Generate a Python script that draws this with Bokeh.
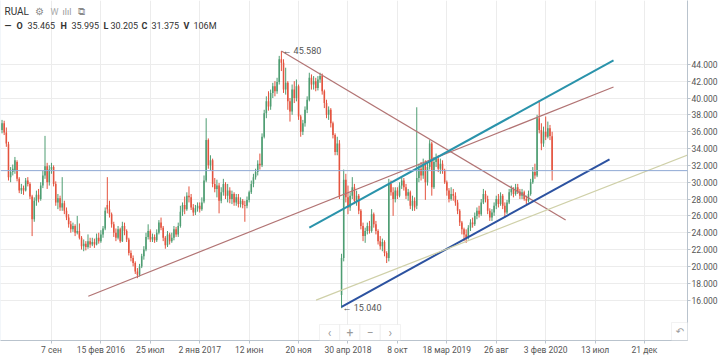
import pandas as pd
from bokeh.plotting import figure
from bokeh.models import (Range1d, FixedTicker, NumeralTickFormatter, Span, Label,
                          BoxAnnotation, ColumnDataSource)
from bokeh.embed import file_html
from bokeh.resources import INLINE

# ---------------- data (weekly candles, RUAL) ----------------
ticker_name = "RUAL"
first_week = "2015-03-30"

open_ = [
    36.2, 37.0, 35.9, 34.5, 30.6, 31.2, 31.4, 32.4, 30.4, 29.0,
    29.3, 29.0, 30.2, 29.8, 28.3, 25.6, 27.8, 28.5, 28.0, 29.6,
    30.8, 31.9, 30.0, 31.5, 31.8, 29.8, 27.6, 28.1, 27.0, 27.5,
    26.6, 25.8, 25.0, 24.4, 24.8, 24.0, 24.2, 23.4, 22.4, 22.7,
    22.3, 23.0, 22.6, 22.9, 22.6, 23.4, 23.0, 23.8, 24.5, 27.3,
    26.8, 26.2, 25.0, 24.0, 23.4, 24.4, 23.0, 24.8, 24.2, 23.2,
    21.6, 21.0, 20.4, 19.4, 19.0, 20.0, 21.2, 22.0, 23.5, 24.2,
    23.2, 23.5, 23.1, 24.0, 25.2, 24.6, 23.4, 22.5, 23.8, 23.0,
    23.4, 24.4, 23.8, 24.8, 26.5, 27.3, 26.8, 28.4, 28.2, 27.0,
    26.4, 26.9, 27.2, 26.8, 27.7, 30.2, 35.0, 32.0, 32.6, 29.8,
    29.2, 29.6, 27.8, 28.8, 29.8, 28.4, 29.0, 28.0, 28.6, 27.6,
    28.2, 27.4, 27.8, 27.3, 27.2, 27.9, 28.8, 29.8, 30.6, 31.2,
    32.2, 32.0, 35.4, 38.2, 39.6, 39.0, 40.6, 41.4, 40.8, 41.9,
    44.6, 44.2, 41.0, 41.8, 39.6, 38.4, 41.0, 40.0, 41.4, 37.8,
    36.0, 37.0, 38.6, 39.8, 42.4, 41.6, 42.0, 41.2, 42.2, 42.6,
    40.8, 39.4, 38.0, 38.6, 37.0, 35.6, 33.6, 34.6, 16.6, 21.0,
    30.3, 28.2, 27.0, 28.4, 29.4, 27.8, 28.4, 26.6, 24.8, 23.6,
    24.2, 24.8, 24.2, 26.2, 25.0, 24.2, 23.0, 22.4, 22.9, 21.6,
    21.0, 29.8, 28.8, 28.0, 29.0, 28.4, 29.6, 30.2, 29.4, 28.4,
    28.8, 27.2, 27.8, 27.2, 30.5, 31.6, 30.8, 32.2, 30.0, 31.8,
    34.6, 29.4, 32.4, 32.8, 31.6, 32.2, 31.4, 30.0, 29.0, 28.0,
    28.6, 28.4, 27.6, 26.6, 25.2, 24.4, 23.8, 23.4, 24.6, 25.2,
    25.0, 26.0, 26.6, 26.2, 27.6, 28.6, 28.0, 26.6, 25.8, 26.4,
    27.2, 28.0, 27.4, 28.4, 27.2, 26.4, 27.6, 28.8, 29.2, 28.6,
    29.4, 28.9, 28.4, 28.8, 28.0, 27.8, 28.6, 30.0, 31.2, 30.8,
    37.6, 36.2, 34.6, 36.0, 35.4, 36.4, 35.465,
]
high = [
    37.4, 37.3, 36.5, 34.8, 31.8, 32.1, 33.0, 32.6, 30.6, 29.8,
    29.6, 30.5, 30.6, 30.0, 28.5, 28.2, 29.0, 29.2, 30.0, 31.4,
    35.5, 32.3, 32.0, 32.3, 32.0, 30.1, 28.6, 28.4, 30.6, 27.8,
    27.0, 26.2, 25.4, 25.2, 25.0, 26.0, 25.1, 23.6, 23.2, 23.0,
    23.8, 23.4, 23.4, 23.3, 23.9, 24.0, 24.3, 24.8, 27.0, 30.6,
    27.8, 26.4, 25.3, 24.5, 24.8, 24.6, 25.3, 25.2, 24.4, 23.4,
    21.9, 21.3, 20.6, 19.8, 20.3, 21.5, 22.4, 24.0, 25.0, 24.4,
    23.9, 23.8, 24.4, 25.5, 25.8, 24.8, 23.6, 24.2, 24.0, 24.0,
    24.8, 24.7, 25.2, 27.2, 27.6, 28.3, 28.8, 29.5, 28.6, 27.4,
    27.3, 27.6, 27.6, 28.2, 30.8, 37.6, 35.2, 33.2, 32.8, 30.5,
    30.3, 29.9, 29.4, 30.4, 30.0, 29.8, 29.4, 29.0, 28.8, 28.6,
    28.6, 28.2, 28.0, 27.8, 28.3, 29.0, 30.2, 31.0, 31.6, 32.6,
    33.4, 35.8, 38.6, 40.2, 40.8, 41.0, 41.8, 42.0, 42.4, 45.0,
    45.58, 44.6, 43.6, 42.0, 40.0, 41.6, 42.0, 42.2, 41.6, 38.0,
    37.4, 39.0, 40.2, 43.0, 42.8, 42.6, 42.4, 42.6, 43.0, 42.9,
    41.0, 39.8, 39.0, 38.8, 37.2, 35.8, 35.4, 35.0, 21.5, 31.5,
    31.0, 29.6, 28.8, 30.6, 29.8, 29.0, 28.6, 26.8, 25.2, 24.6,
    25.2, 25.4, 26.8, 26.4, 25.4, 24.4, 23.6, 23.3, 23.1, 21.8,
    30.4, 30.2, 29.4, 29.4, 29.4, 30.0, 30.6, 30.5, 29.8, 29.2,
    29.0, 28.4, 28.2, 38.9, 32.2, 32.4, 32.8, 32.6, 32.4, 35.0,
    34.8, 33.0, 33.4, 33.2, 32.8, 32.6, 31.6, 30.2, 29.3, 29.4,
    29.2, 28.8, 27.9, 26.8, 25.4, 24.6, 24.4, 24.9, 25.6, 25.8,
    26.4, 27.0, 27.2, 28.0, 29.2, 29.0, 28.4, 26.9, 26.8, 27.6,
    28.4, 28.6, 28.8, 28.6, 27.6, 27.9, 29.2, 29.6, 29.4, 29.8,
    29.8, 29.2, 29.2, 29.0, 28.4, 29.0, 30.4, 31.8, 32.2, 38.0,
    39.75, 37.0, 36.6, 37.8, 37.2, 36.8, 35.995,
]
low = [
    35.8, 35.6, 34.2, 30.2, 30.0, 30.8, 31.0, 30.1, 28.7, 28.6,
    28.5, 28.9, 29.5, 28.0, 23.6, 25.3, 27.2, 27.6, 27.8, 29.3,
    30.4, 29.2, 29.6, 31.0, 29.5, 27.2, 26.8, 26.6, 26.6, 26.2,
    25.5, 24.6, 24.0, 24.1, 23.6, 23.8, 23.2, 22.0, 21.8, 21.9,
    22.1, 22.2, 22.4, 22.2, 22.5, 22.7, 22.8, 23.4, 24.3, 26.3,
    25.8, 24.6, 23.5, 23.0, 23.2, 22.8, 22.9, 23.7, 22.9, 21.3,
    20.6, 20.0, 19.1, 18.6, 18.8, 19.8, 20.8, 21.8, 23.2, 22.9,
    22.9, 22.8, 22.9, 23.8, 24.3, 23.0, 22.1, 22.3, 22.6, 22.8,
    23.1, 23.5, 23.5, 24.6, 26.0, 26.2, 26.6, 27.6, 26.7, 26.0,
    26.1, 26.5, 26.4, 26.6, 27.5, 30.0, 31.6, 31.4, 29.4, 28.8,
    28.2, 26.3, 27.5, 28.4, 28.0, 27.6, 27.5, 27.4, 27.2, 27.2,
    27.0, 27.0, 26.9, 25.3, 26.9, 27.6, 28.6, 29.4, 30.3, 30.8,
    31.5, 31.8, 35.2, 37.6, 38.5, 38.6, 40.0, 40.2, 40.5, 41.6,
    43.2, 40.6, 40.4, 38.6, 37.2, 38.0, 39.4, 39.6, 37.4, 35.4,
    35.6, 36.6, 38.2, 39.6, 41.0, 41.0, 40.8, 40.9, 41.8, 40.4,
    38.8, 37.6, 37.4, 36.5, 35.2, 33.2, 33.2, 28.0, 15.04, 20.6,
    27.6, 26.2, 26.6, 28.0, 27.4, 27.2, 26.2, 24.4, 23.0, 22.8,
    23.8, 23.9, 24.0, 24.6, 23.8, 22.6, 22.0, 21.8, 21.2, 20.4,
    20.6, 28.4, 26.0, 27.6, 28.0, 28.2, 29.2, 29.0, 28.0, 27.8,
    26.8, 26.6, 26.6, 26.8, 30.0, 30.2, 30.4, 27.9, 29.6, 31.5,
    28.4, 29.2, 31.8, 31.2, 31.0, 31.0, 29.8, 28.4, 27.6, 27.8,
    27.8, 27.2, 26.2, 24.8, 23.8, 23.0, 22.8, 23.2, 24.2, 24.6,
    24.8, 25.6, 25.8, 26.0, 27.4, 27.6, 26.2, 25.4, 25.4, 26.0,
    26.8, 27.0, 27.2, 26.8, 25.8, 26.2, 27.4, 28.4, 28.2, 28.4,
    28.6, 28.0, 28.0, 27.8, 27.4, 27.6, 28.4, 29.8, 30.4, 30.6,
    35.8, 33.8, 34.2, 35.0, 35.2, 35.0, 30.205,
]
close = [
    37.0, 35.9, 34.6, 30.6, 31.2, 31.6, 32.6, 30.4, 29.0, 29.3,
    29.0, 30.2, 29.8, 28.3, 25.6, 27.8, 28.5, 28.0, 29.6, 30.8,
    31.9, 30.0, 31.5, 31.8, 29.8, 27.6, 28.1, 27.0, 27.5, 26.6,
    25.8, 25.0, 24.4, 24.8, 24.0, 24.2, 23.4, 22.4, 22.7, 22.3,
    23.0, 22.6, 22.9, 22.6, 23.4, 23.0, 23.8, 24.5, 26.6, 26.8,
    26.2, 25.0, 24.0, 23.4, 24.4, 23.0, 24.8, 24.2, 23.2, 21.6,
    21.0, 20.4, 19.4, 19.0, 20.0, 21.2, 22.0, 23.5, 24.2, 23.2,
    23.5, 23.1, 24.0, 25.2, 24.6, 23.4, 22.5, 23.8, 23.0, 23.4,
    24.4, 23.8, 24.8, 26.5, 27.3, 26.8, 28.4, 28.2, 27.0, 26.4,
    26.9, 27.2, 26.8, 27.6, 30.2, 35.0, 32.0, 32.6, 29.8, 29.2,
    29.6, 27.8, 28.8, 29.8, 28.4, 29.0, 28.0, 28.6, 27.6, 28.2,
    27.4, 27.8, 27.3, 27.2, 27.9, 28.8, 29.8, 30.6, 31.2, 32.2,
    32.0, 35.4, 38.2, 39.6, 39.0, 40.6, 41.4, 40.8, 41.9, 44.6,
    44.2, 41.0, 41.8, 39.6, 38.4, 41.0, 40.0, 41.4, 37.8, 36.0,
    37.0, 38.6, 39.8, 42.4, 41.6, 42.0, 41.2, 42.2, 42.6, 40.8,
    39.4, 38.0, 38.6, 37.0, 35.6, 33.6, 34.6, 28.4, 21.0, 30.3,
    28.2, 27.0, 28.4, 29.4, 27.8, 28.4, 26.6, 24.8, 23.6, 24.2,
    24.8, 24.2, 26.2, 25.0, 24.2, 23.0, 22.4, 22.9, 21.6, 21.0,
    29.8, 28.8, 28.0, 29.0, 28.4, 29.6, 30.2, 29.4, 28.4, 28.8,
    27.2, 27.8, 27.0, 30.5, 31.6, 30.8, 32.2, 30.0, 31.8, 34.6,
    29.4, 32.4, 32.8, 31.6, 32.2, 31.4, 30.0, 29.0, 28.0, 28.6,
    28.4, 27.6, 26.6, 25.2, 24.4, 23.8, 23.4, 24.6, 25.2, 25.0,
    26.0, 26.6, 26.2, 27.6, 28.6, 28.0, 26.6, 25.8, 26.4, 27.2,
    28.0, 27.4, 28.4, 27.2, 26.4, 27.6, 28.8, 29.2, 28.6, 29.4,
    28.9, 28.4, 28.8, 28.0, 27.8, 28.6, 30.0, 31.2, 30.8, 37.6,
    36.2, 34.6, 36.0, 35.4, 36.4, 35.5, 31.375,
]
last_volume = "106M"

x_tick_dates = ["2015-09-07", "2016-02-15", "2016-07-25", "2017-01-02", "2017-06-12",
                "2017-11-20", "2018-04-30", "2018-10-08", "2019-03-18", "2019-08-26",
                "2020-02-03", "2020-07-13", "2020-12-21"]
x_tick_labels = ["7 сен", "15 фев 2016", "25 июл", "2 янв 2017", "12 июн", "20 ноя",
                 "30 апр 2018", "8 окт", "18 мар 2019", "26 авг", "3 фев 2020",
                 "13 июл", "21 дек"]
y_ticks = [16, 18, 20, 22, 24, 26, 28, 30, 32, 34, 36, 38, 40, 42, 44]

# user-drawn trend lines: start date, start price, end date, end price
trend_start_dates = ["2017-09-25", "2016-01-05", "2017-12-25", "2018-04-09", "2018-01-16"]
trend_start_vals = [45.58, 16.46, 24.62, 15.2, 16.0]
trend_end_dates = ["2020-04-08", "2020-09-11", "2020-09-11", "2020-08-29", "2021-06-07"]
trend_end_vals = [25.5, 41.31, 44.47, 32.72, 33.63]
trend_colors = ["#b27474", "#b27474", "#2a93ab", "#2c52a0", "#cfd0a8"]
trend_widths = [1.2, 1.2, 2, 2, 1.2]

# ---------------- build ----------------
ORIGIN = pd.Timestamp("2015-09-07")


def day(s):
    return (pd.Timestamp(s) - ORIGIN).days


weeks = pd.date_range(start=first_week, periods=len(close), freq="7D")
xs = [(w - ORIGIN).days for w in weeks]

GREEN = "#4e9d72"
RED = "#e4533e"
FONT = "Roboto"
FRAME_H = 341

colors = [GREEN if c >= o else RED for o, c in zip(open_, close)]
src = ColumnDataSource(dict(
    x=xs, o=open_, h=high, l=low, c=close,
    top=[max(o, c) for o, c in zip(open_, close)],
    bottom=[min(o, c) for o, c in zip(open_, close)],
    color=colors,
))

p = figure(width=720, height=357, output_backend="svg", toolbar_location=None,
           x_range=Range1d(-166, 2072), y_range=Range1d(11.2, 51.58),
           y_axis_location="right",
           min_border_left=0, min_border_top=0, min_border_right=32, min_border_bottom=16)
p.outline_line_color = None
p.background_fill_color = "white"
p.border_fill_color = "white"

# axes
p.xaxis.ticker = FixedTicker(ticks=[day(d) for d in x_tick_dates])
p.xaxis.major_label_overrides = {day(d): t for d, t in zip(x_tick_dates, x_tick_labels)}
p.yaxis.ticker = FixedTicker(ticks=y_ticks)
p.yaxis.formatter = NumeralTickFormatter(format="0.000")
for ax in (p.xaxis[0], p.yaxis[0]):
    ax.axis_line_color = "#b9c3cd"
    ax.major_tick_line_color = "#b9c3cd"
    ax.minor_tick_line_color = None
    ax.major_tick_in = 0
    ax.major_tick_out = 3
    ax.major_label_standoff = 1
    ax.major_label_text_font = FONT
    ax.major_label_text_font_size = "8.5px"
    ax.major_label_text_color = "#555555"
p.xgrid.grid_line_color = "#ececec"
p.ygrid.grid_line_color = "#ececec"

# candles
p.segment(x0="x", y0="h", x1="x", y1="l", line_color="color", line_width=1, source=src)
p.vbar(x="x", width=5, top="top", bottom="bottom", fill_color="color",
       line_color=None, source=src)

# trend lines
p.segment(x0=[day(d) for d in trend_start_dates], y0=trend_start_vals,
          x1=[day(d) for d in trend_end_dates], y1=trend_end_vals,
          line_color=trend_colors, line_width=trend_widths)

# current price line + label
p.add_layout(Span(location=close[-1], dimension="width", line_color="#8ea8d4", line_width=1))
p.add_layout(Label(x=p.x_range.end, y=close[-1], x_offset=1, text=f"{close[-1]:.3f}",
                   text_font=FONT, text_font_size="9px", text_color="white",
                   text_baseline="middle", text_align="left",
                   background_fill_color="#3a7dd0", padding=3, border_radius=2))

# high / low markers
i_hi = high.index(max(high))
i_lo = low.index(min(low))
p.add_layout(Label(x=xs[i_hi], y=high[i_hi], x_offset=1, text=f"← {high[i_hi]:.3f}",
                   text_font=FONT, text_font_size="9px", text_color="#555555",
                   text_baseline="middle"))
p.add_layout(Label(x=xs[i_lo], y=low[i_lo], x_offset=1, text=f"← {low[i_lo]:.3f}",
                   text_font=FONT, text_font_size="9px", text_color="#555555",
                   text_baseline="middle"))


def hdr(x, y_top, text, bold=False, color="#333333", size="9px"):
    p.add_layout(Label(x=x, y=FRAME_H - y_top, x_units="screen", y_units="screen",
                       text=text, text_font=FONT, text_font_size=size, text_color=color,
                       text_font_style="bold" if bold else "normal",
                       text_baseline="middle", text_align="left"))


# header
hdr(4, 12, ticker_name, size="10px")
hdr(34, 12, "⚙", color="#8a8a8a", size="10px")
hdr(50, 12, "W", color="#aaaaaa", size="9px")
hdr(62, 12, "ılıl", color="#999999", size="9px")
hdr(77, 12, "⧉", color="#8a8a8a", size="10px")
line2 = [(4, "—", True), (16, "O", True), (27, f"{open_[-1]:.3f}", False),
         (60, "H", True), (71, f"{high[-1]:.3f}", False),
         (103, "L", True), (110, f"{low[-1]:.3f}", False),
         (141, "C", True), (151, f"{close[-1]:.3f}", False),
         (183, "V", True), (193, last_volume, False)]
for x, t, b in line2:
    hdr(x, 26, t, bold=b)

# navigation buttons
for i, sym in enumerate(["‹", "+", "−", "›"]):
    left = 319 + i * 20.25
    p.add_layout(BoxAnnotation(left=left, right=left + 20.25, bottom=0, top=16,
                               left_units="screen", right_units="screen",
                               bottom_units="screen", top_units="screen",
                               fill_color="white", fill_alpha=1,
                               line_color="#d4d4d4", line_width=1))
    p.add_layout(Label(x=left + 10.1, y=8, x_units="screen", y_units="screen", text=sym,
                       text_font=FONT, text_font_size="12px", text_color="#9a9a9a",
                       text_align="center", text_baseline="middle"))
p.add_layout(BoxAnnotation(left=671, right=688, bottom=0, top=18,
                           left_units="screen", right_units="screen",
                           bottom_units="screen", top_units="screen",
                           fill_color="white", fill_alpha=1,
                           line_color="#d4d4d4", line_width=1))
p.add_layout(Label(x=679.5, y=9, x_units="screen", y_units="screen", text="↶",
                   text_font="DejaVu Sans", text_font_size="10px", text_color="#9a9a9a",
                   text_align="center", text_baseline="middle"))

# outer frame of the widget
p.add_layout(BoxAnnotation(left=0, right=719.5, bottom=-15.5, top=FRAME_H + 0.5,
                           left_units="screen", right_units="screen",
                           bottom_units="screen", top_units="screen",
                           fill_alpha=0, line_color="#a9c1dd", line_width=1))

open("out.html", "w").write(file_html(p, INLINE))
